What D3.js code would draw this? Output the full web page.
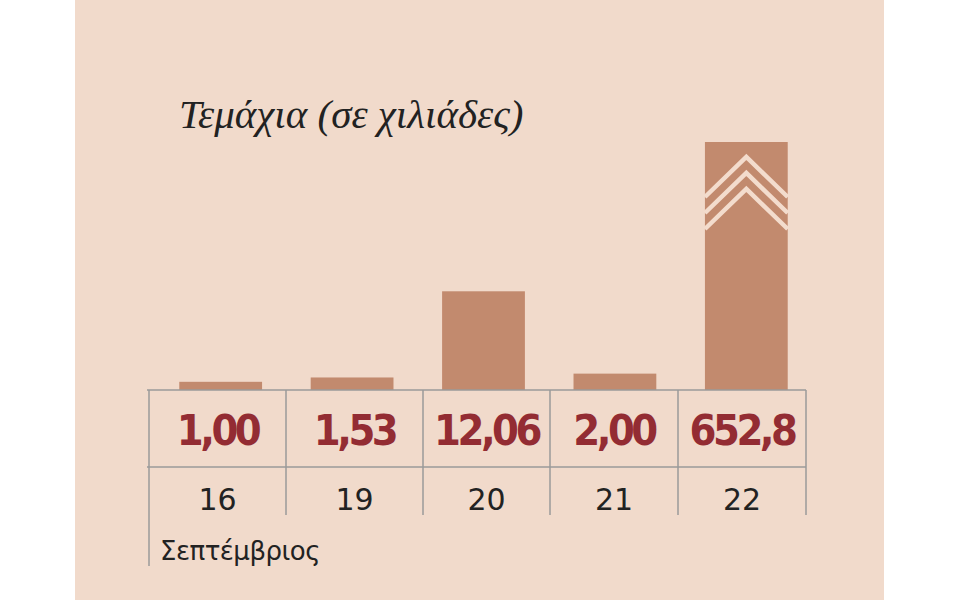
<!DOCTYPE html>
<html><head><meta charset="utf-8">
<script src="https://cdn.jsdelivr.net/npm/d3@7"></script>
<style>body{margin:0;background:#fff}</style></head>
<body><svg id="c" width="960" height="600"></svg>
<script>
const days = ["16","19","20","21","22"];
const values = [1.00, 1.53, 12.06, 2.00, 652.8];
const valueLabels = ["1,00","1,53","12,06","2,00","652,8"];
const title = "Τεμάχια (σε χιλιάδες)";
const monthLabel = "Σεπτέμβριος";

const svg = d3.select("#c");
svg.append("rect").attr("x",75).attr("y",0).attr("width",809).attr("height",600).attr("fill","#f1dacb");

const baseY = 390, capVal = 30.3;
const y = d3.scaleLinear().domain([0, capVal]).range([baseY, 142]).clamp(true);
const x = d3.scaleBand().domain(days).range([153, 814]).paddingInner(0.37).paddingOuter(0.2);
const cols = [149, 286, 423, 550, 678, 806];
const colCenters = d3.range(5).map(i => (cols[i]+cols[i+1])/2);

svg.selectAll(".bar").data(values).join("rect")
  .attr("x",(d,i)=>x(days[i])).attr("width",x.bandwidth())
  .attr("y",d=>y(d)).attr("height",d=>baseY-y(d)).attr("fill","#c28a6e");

values.forEach((v,i)=>{
  if(v>capVal){
    const x0=x(days[i]), w=x.bandwidth(), cx=x0+w/2;
    [157,173,189].forEach(ay=>{
      svg.append("path").attr("d",`M${x0},${ay+40}L${cx},${ay}L${x0+w},${ay+40}`)
        .attr("fill","none").attr("stroke","#f3dccd").attr("stroke-width",4.5);
    });
  }
});

const g="#9a9a9a";
svg.append("line").attr("x1",147).attr("x2",806).attr("y1",baseY).attr("y2",baseY).attr("stroke",g).attr("stroke-width",1.5);
svg.append("line").attr("x1",147).attr("x2",806).attr("y1",467).attr("y2",467).attr("stroke",g).attr("stroke-width",1.5);
cols.forEach((c,i)=>{
  svg.append("line").attr("x1",c).attr("x2",c).attr("y1",baseY).attr("y2",i===0?566:515).attr("stroke",g).attr("stroke-width",1.5);
});

svg.selectAll(".val").data(valueLabels).join("text")
  .attr("x",(d,i)=>colCenters[i]).attr("y",445).attr("text-anchor","middle")
  .attr("font-family","DejaVu Sans Condensed, DejaVu Sans").attr("font-weight","bold")
  .attr("font-size",43).attr("letter-spacing",-3.5).attr("fill","#932c33").text(d=>d);

svg.selectAll(".day").data(days).join("text")
  .attr("x",(d,i)=>colCenters[i]).attr("y",510).attr("text-anchor","middle")
  .attr("font-family","DejaVu Sans, sans-serif").attr("font-size",30).attr("fill","#222").text(d=>d);

svg.append("text").attr("x",160).attr("y",560).attr("font-family","DejaVu Sans, sans-serif")
  .attr("font-size",26).attr("fill","#222").attr("letter-spacing",-0.5).text(monthLabel);

svg.append("text").attr("x",179).attr("y",128).attr("font-family","Liberation Serif, DejaVu Serif, serif")
  .attr("font-style","italic").attr("font-size",41).attr("fill","#222").text(title);
</script></body></html>
